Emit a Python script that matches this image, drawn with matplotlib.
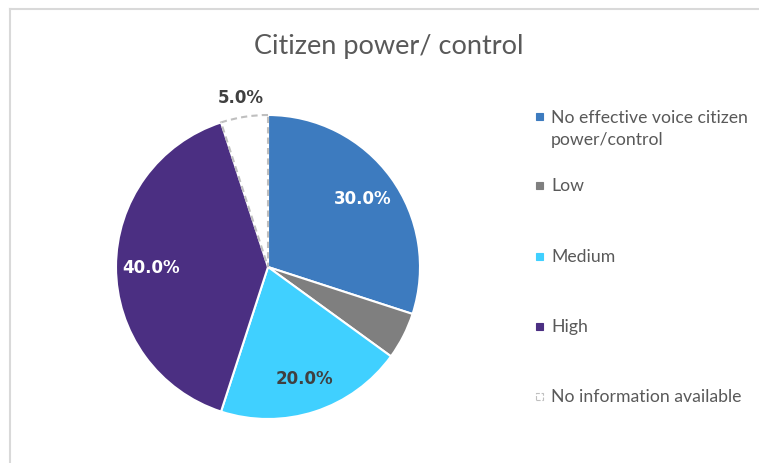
import numpy as np
import matplotlib
matplotlib.use("Agg")
import matplotlib.pyplot as plt
from matplotlib.patches import Rectangle
from matplotlib.lines import Line2D

# data
categories = ["No effective voice citizen\npower/control", "Low", "Medium", "High",
              "No information available"]
shares = [30.0, 5.0, 20.0, 40.0, 5.0]
colors = ["#3D7BBF", "#7F7F7F", "#40D0FF", "#4B2F82", "#FFFFFF"]
label_colors = ["white", "white", "#404040", "white", "#404040"]
show_label = [True, False, True, True, True]

fig = plt.figure(figsize=(7.59, 4.64), dpi=100)

# frame lines (top & left only visible)
fig.add_artist(Line2D([10 / 759, 1.0], [1 - 10 / 464, 1 - 10 / 464],
                      transform=fig.transFigure, color="#D9D9D9", lw=1.5))
fig.add_artist(Line2D([10 / 759, 10 / 759], [0, 1 - 10 / 464],
                      transform=fig.transFigure, color="#D9D9D9", lw=1.5))

fig.text(389 / 759, 1 - 47 / 464, "Citizen power/ control", ha="center", va="center",
         fontsize=19.5, color="#595959", family="Lato")

ax = fig.add_axes([116 / 759, 44 / 464, 304 / 759, 304 / 464])
wedges, texts, autotexts = ax.pie(shares, colors=colors, startangle=90, counterclock=False,
                                  autopct="%1.1f%%", pctdistance=0.77,
                                  wedgeprops=dict(edgecolor="white", linewidth=1.5),
                                  textprops=dict(fontsize=12, fontweight="bold"))
ax.set_aspect("equal")
ax.set_xlim(-1, 1)
ax.set_ylim(-1, 1)

# no-information slice: white with dashed outline
wedges[4].set_edgecolor("#BFBFBF")
wedges[4].set_linestyle((0, (3, 2)))
wedges[4].set_zorder(3)

for i, t in enumerate(autotexts):
    t.set_color(label_colors[i])
    if not show_label[i]:
        t.set_text("")
w = wedges[4]
mid = np.deg2rad((w.theta1 + w.theta2) / 2)
autotexts[4].set_position((1.13 * np.cos(mid), 1.13 * np.sin(mid)))

# legend drawn by hand to match the spacing
legend_y = [129, 186, 257, 327, 397]
for lab, col, y in zip(categories, colors, legend_y):
    yy = 1 - y / 464
    my = 1 - 117 / 464 if "\n" in lab else yy
    ls = "--" if col == "#FFFFFF" else "-"
    ec = "#BFBFBF" if col == "#FFFFFF" else col
    fig.add_artist(Rectangle((536 / 759, my - 3.5 / 464), 7 / 759, 7 / 464,
                             transform=fig.transFigure, facecolor=col, edgecolor=ec,
                             linestyle=ls, lw=0.8))
    fig.text(551 / 759, yy, lab, ha="left", va="center",
             fontsize=12.7, color="#595959", family="Lato", linespacing=1.48)

fig.savefig("out.png", dpi=100)
